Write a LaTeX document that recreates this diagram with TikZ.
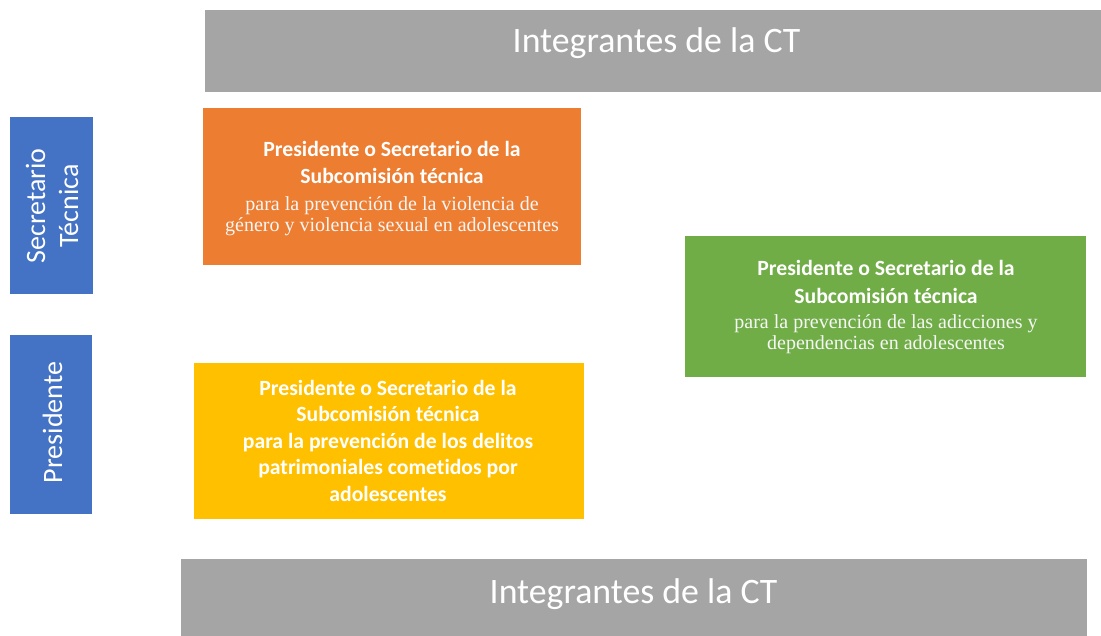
\documentclass[tikz,border=0pt]{standalone}
\usepackage{fontspec}
\setmainfont{Carlito}[Ligatures=NoCommon]
\newfontfamily\tnr{Liberation Serif}
\definecolor{cgray}{HTML}{A5A5A5}
\definecolor{cblue}{HTML}{4472C4}
\definecolor{corange}{HTML}{ED7D31}
\definecolor{cyellow}{HTML}{FFC000}
\definecolor{cgreen}{HTML}{70AD47}
\definecolor{ltext}{HTML}{F6F6F6}
\tikzset{
  box/.style={rectangle, inner sep=0pt, outer sep=0pt},
  txt/.style={inner sep=0pt, outer sep=0pt, text=white, align=center, anchor=base},
  titletxt/.style={txt, font=\fontsize{35.8}{40}\selectfont},
  sidetxt/.style={txt, rotate=90, font=\fontsize{28}{33}\selectfont},
  subtxt/.style={txt, font=\fontsize{21.7}{27}\selectfont}
}
\newcommand{\sertext}[1]{{\tnr\fontsize{20}{21}\selectfont\color{ltext}#1}}
\begin{document}
\begin{tikzpicture}[x=1pt,y=-1pt]
\useasboundingbox (0,0) rectangle (1101,636);
% boxes
\node[box, fill=cgray, minimum width=896pt, minimum height=82pt] (top) at (653,51) {};
\node[box, fill=cgray, minimum width=906pt, minimum height=77pt] (bot) at (634,597.5) {};
\node[box, fill=cblue, minimum width=83pt, minimum height=177pt] (sec) at (51.5,205.5) {};
\node[box, fill=cblue, minimum width=82pt, minimum height=179pt] (pres) at (51,424.5) {};
\node[box, fill=corange, minimum width=378pt, minimum height=157pt] (orange) at (392,186.5) {};
\node[box, fill=cyellow, minimum width=390pt, minimum height=156pt] (yellow) at (389,441) {};
\node[box, fill=cgreen, minimum width=401pt, minimum height=141pt] (green) at (885.5,306.5) {};
% texts (anchor base = baseline of the last line)
\node[titletxt] (topT) at (656.5,53) {Integrantes de la CT};
\node[titletxt] (botT) at (633.5,603) {Integrantes de la CT};
\node[sidetxt] (secT) at (78,206) {Secretario\\Técnica};
\node[sidetxt] (presT) at (62,422.5) {Presidente};
\node[subtxt] (orangeT) at (392,232)
  {\textbf{Presidente o Secretario de la}\\\textbf{Subcomisión técnica}\\\sertext{para la prevención de la violencia de}\\[-6pt]\sertext{género y violencia sexual en adolescentes}};
\node[subtxt, font=\bfseries\fontsize{21.7}{26.5}\selectfont] (yellowT) at (388,501)
  {Presidente o Secretario de la\\Subcomisión técnica\\para la prevención de los delitos\\patrimoniales cometidos por\\adolescentes};
\node[subtxt] (greenT) at (886,350)
  {\textbf{Presidente o Secretario de la}\\\textbf{Subcomisión técnica}\\[-1pt]\sertext{para la prevención de las adicciones y}\\[-6pt]\sertext{dependencias en adolescentes}};
\end{tikzpicture}
\end{document}
